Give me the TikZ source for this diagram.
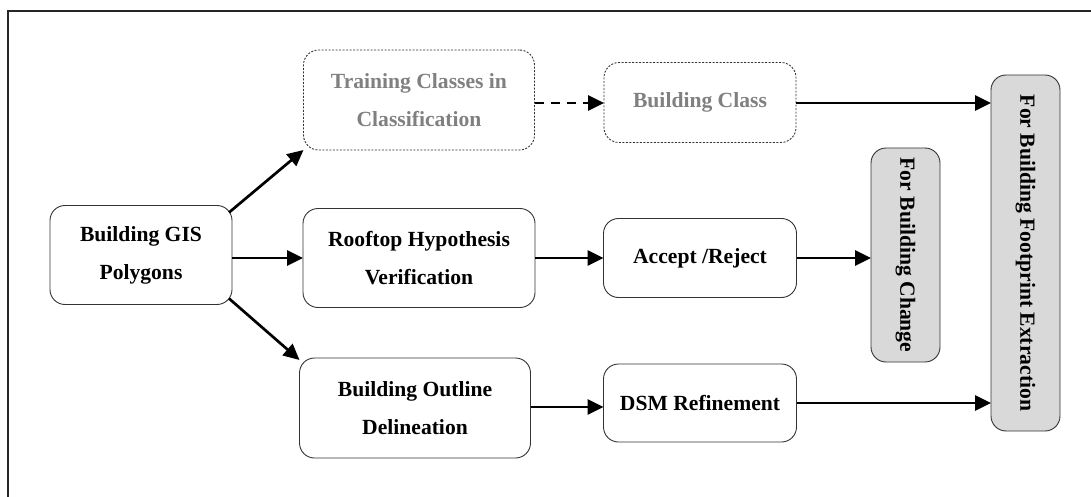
\documentclass[tikz,border=0pt]{standalone}
\usepackage{fontspec}
\setmainfont{Liberation Serif}
\usetikzlibrary{arrows.meta,calc}

\tikzset{
  box/.style={draw=black!80, line width=0.9pt, rounded corners=15pt, align=center,
    inner sep=0pt, outer sep=0pt, font=\fontsize{21.6}{38}\selectfont\bfseries},
  ghost/.style={box, dash pattern=on 2pt off 1.5pt, text=black!50},
  side/.style={box, fill=black!15, rotate=-90},
  arr/.style={line width=2.7pt, -{Triangle[length=16pt,width=15pt]}},
  frame/.style={line width=2pt, draw=black!85}
}

\begin{document}
\begin{tikzpicture}[x=1pt, y=-1pt]
  \useasboundingbox (0,0) rectangle (1091,497);
  \draw[frame] (8,497) -- (8,11) -- (1091,11);

  % source
  \node[box, minimum width=182pt, minimum height=99pt] (gis) at (141,255) {Building GIS\\Polygons};

  % upper branch (classification)
  \node[ghost, minimum width=231pt, minimum height=100pt] (train) at (419,100) {Training Classes in\\Classification};
  \node[ghost, minimum width=192pt, minimum height=80pt] (bclass) at (700,102.5) {Building Class};

  % middle branch (verification)
  \node[box, minimum width=232pt, minimum height=99pt] (roof) at (419,258) {Rooftop Hypothesis\\Verification};
  \node[box, minimum width=193pt, minimum height=79pt] (acc) at (700,258) {Accept /Reject};

  % lower branch (delineation)
  \node[box, minimum width=231pt, minimum height=100pt] (outl) at (415,408) {Building Outline\\Delineation};
  \node[box, minimum width=193pt, minimum height=78pt] (dsm) at (700,403) {DSM Refinement};

  % outputs (text runs top to bottom; the rotated node's south is its left side)
  \node[side, minimum width=214pt, minimum height=69pt] (chg) at (905.5,255) {For Building Change};
  \node[side, minimum width=356pt, minimum height=69pt] (foot) at (1025.5,253) {For Building Footprint Extraction};

  % connectors
  \draw[arr] ($(gis.north east)+(-3,7)$) -- (train.south west);
  \draw[arr] (gis.east |- roof.west) -- (roof.west);
  \draw[arr] ($(gis.south east)+(-3,-6)$) -- ($(outl.north west)+(0,2)$);

  \draw[arr, dash pattern=on 9pt off 7pt] (train.east |- 0,103) -- (bclass.west |- 0,103);
  \draw[arr] (bclass.east |- 0,103) -- (foot.south |- 0,103);

  \draw[arr] (roof.east) -- (acc.west);
  \draw[arr] (acc.east) -- (acc.east -| chg.south);

  \draw[arr] (outl.east |- 0,407) -- (dsm.west |- 0,407);
  \draw[arr] (dsm.east) -- (dsm.east -| foot.south);
\end{tikzpicture}
\end{document}
